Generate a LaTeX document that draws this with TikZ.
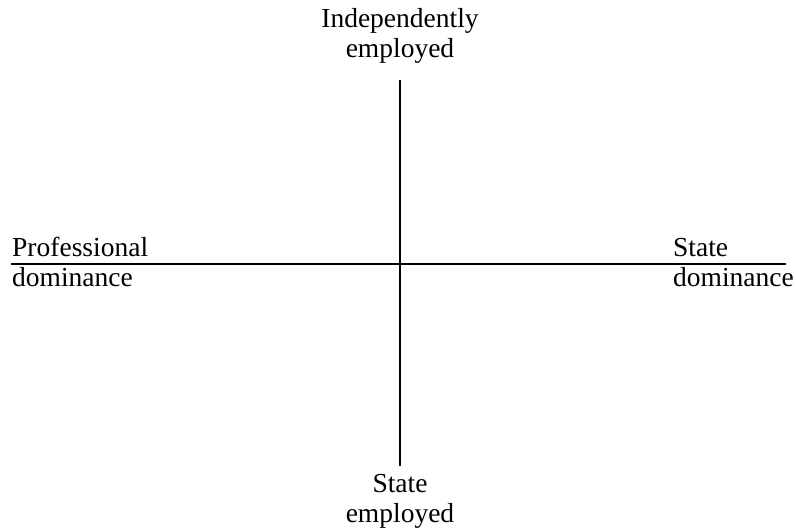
\documentclass[tikz,border=0pt]{standalone}
\usepackage{fontspec}
\setmainfont{Liberation Serif}
\usetikzlibrary{positioning}

\begin{document}
\begin{tikzpicture}[
	x=1pt, y=-1pt,
  axis/.style = {line width=1.8pt},
  lbl/.style = {font=\fontsize{27.5}{30}\selectfont, inner sep=0pt}
  ]
	\useasboundingbox (0,0) rectangle (796,532);

	\coordinate (top) at (400,80);
	\coordinate (bottom) at (400,466);
	\coordinate (left) at (11,264);
	\coordinate (right) at (786,264);

	\draw[axis] (top) -- (bottom);
	\draw[axis] (left) -- (right);

	% base anchor sits on the last line
	\node[lbl,align=center,anchor=base] (indep) at (400,58) {Independently\\employed};
	\node[lbl,align=center,anchor=base] (stateemp) at (400,522) {State\\employed};
	\node[lbl,align=left,anchor=base west] (prof) at (12,287) {Professional\\dominance};
	\node[lbl,align=left,anchor=base east] (statedom) at (794,287) {State\\dominance};

\end{tikzpicture}
\end{document}
